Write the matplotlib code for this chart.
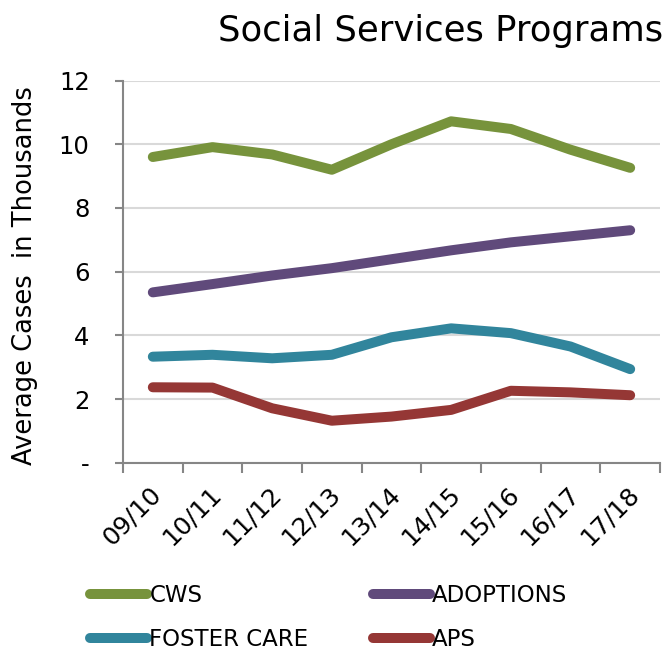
import matplotlib
matplotlib.use("Agg")
import matplotlib.pyplot as plt
import matplotlib.transforms as mtransforms
import numpy as np

plt.rcParams['font.family'] = ['DejaVu Sans']

years = ['09/10', '10/11', '11/12', '12/13', '13/14', '14/15', '15/16', '16/17', '17/18']
cws = [9.60, 9.91, 9.68, 9.20, 10.00, 10.72, 10.48, 9.83, 9.26]
adoptions = [5.35, 5.61, 5.88, 6.11, 6.39, 6.67, 6.92, 7.11, 7.30]
foster_care = [3.33, 3.39, 3.28, 3.39, 3.94, 4.22, 4.07, 3.65, 2.94]
aps = [2.37, 2.36, 1.71, 1.32, 1.45, 1.66, 2.26, 2.21, 2.12]

fig = plt.figure(figsize=(6.71, 6.55), dpi=100)
ax = fig.add_axes([0.1833, 0.2935, 0.8003, 0.5835])

x = np.arange(len(years))
lw = 7.2
style = dict(lw=lw, solid_capstyle='round', solid_joinstyle='round')
l_cws, = ax.plot(x, cws, color='#77933C', label='CWS', **style)
l_ado, = ax.plot(x, adoptions, color='#604A7B', label='ADOPTIONS', **style)
l_fc, = ax.plot(x, foster_care, color='#31859C', label='FOSTER CARE', **style)
l_aps, = ax.plot(x, aps, color='#953735', label='APS', **style)

ax.set_xlim(-0.5, len(years) - 0.5)
ax.set_ylim(0, 12)
ax.set_yticks(range(0, 13, 2))
ax.set_yticklabels(['-'] + [str(v) for v in range(2, 13, 2)], fontsize=17.5)
ax.yaxis.grid(True, color='#D9D9D9', lw=1.5)
ax.set_axisbelow(True)

# category boundaries get the tick marks, labels sit at the centres
ax.set_xticks(np.arange(-0.5, len(years), 1.0))
ax.set_xticklabels([])
ax.set_xticks(x, minor=True)
ax.set_xticklabels(years, minor=True, rotation=45, ha='right', va='center',
                   rotation_mode='anchor', fontsize=18)
ax.tick_params(axis='x', which='minor', length=0, pad=20)
ax.tick_params(axis='x', which='major', length=7, width=1.5, color='#868686')
ax.tick_params(axis='y', length=6, width=1.5, color='#868686', pad=18)
shift = mtransforms.ScaledTranslation(0.05, 0, fig.dpi_scale_trans)
for lab in ax.get_xticklabels(minor=True):
    lab.set_transform(lab.get_transform() + shift)

for s in ['top', 'right']:
    ax.spines[s].set_visible(False)
for s in ['left', 'bottom']:
    ax.spines[s].set_color('#868686')
    ax.spines[s].set_linewidth(1.5)

ax.set_ylabel('Average Cases  in Thousands', fontsize=18.5)
ax.yaxis.set_label_coords(-0.158, 0.49)
fig.text(0.988, 0.952, 'Social Services Programs', ha='right', va='center', fontsize=25.5)

fig.legend([l_cws, l_fc, l_ado, l_aps], ['CWS', 'FOSTER CARE', 'ADOPTIONS', 'APS'],
           ncol=2, loc='lower left', bbox_to_anchor=(0.103, -0.026), frameon=False,
           fontsize=16.5, handlelength=2.5, handletextpad=0.1, columnspacing=2.8,
           labelspacing=0.95)

fig.savefig('out.png', dpi=100)
